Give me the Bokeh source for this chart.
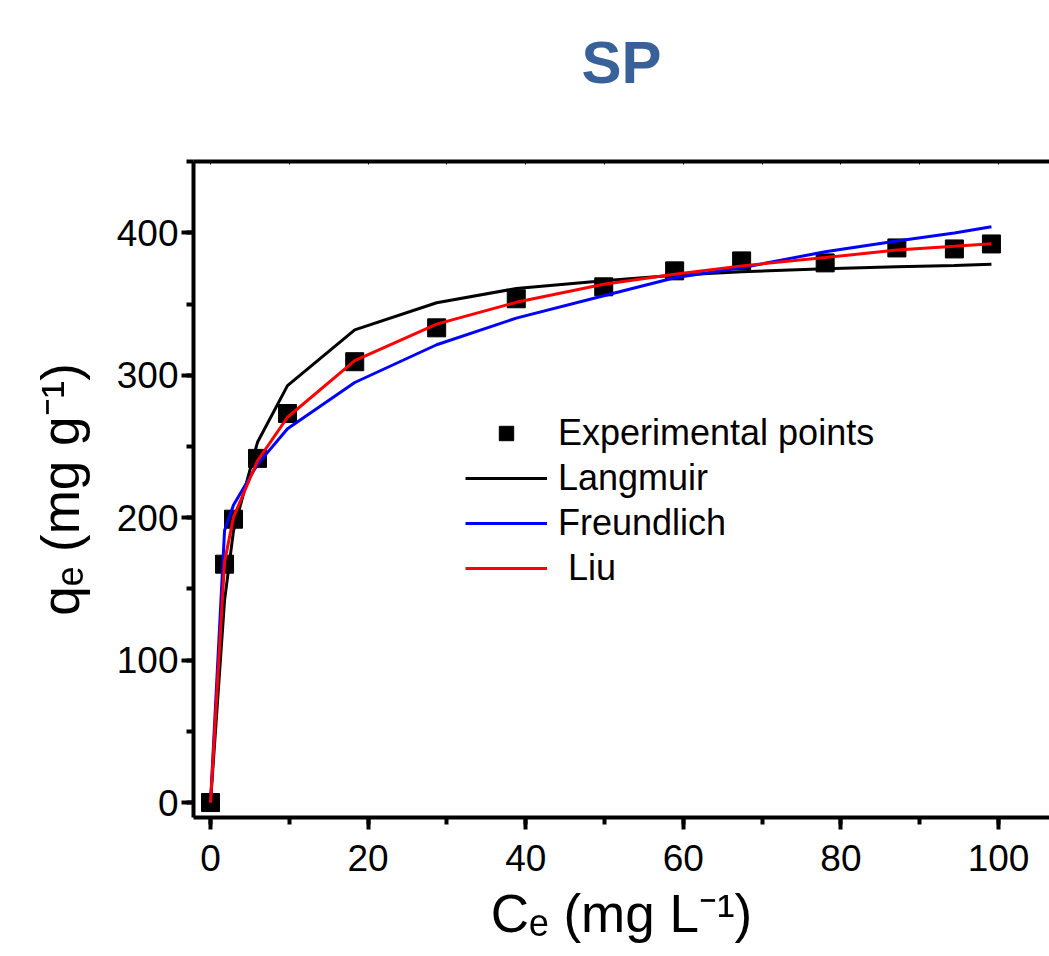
from bokeh.plotting import figure
from bokeh.models import (Range1d, LinearAxis, SingleIntervalTicker, FixedTicker,
                          Legend, LegendItem)
from bokeh.embed import file_html
from bokeh.resources import INLINE

# ---- data ----
ce = [0, 1.78, 2.92, 5.96, 9.77, 18.3, 28.7, 38.8, 49.9, 58.9, 67.4, 78.0, 87.1, 94.4, 99.1]
qe_exp = [0, 167.4, 199.0, 241.7, 273.2, 309.6, 333.4, 353.8, 362.2, 373.4, 380.4, 379.0, 389.5, 388.8, 392.3]
q_langmuir = [0, 142, 191, 253, 292.8, 332, 351, 361, 366.4, 370.3, 372.8, 374.8, 376.2, 377.2, 378.0]
q_freundlich = [0, 191, 209, 237.5, 262.5, 295, 321.5, 340.2, 355.9, 368.6, 375.6, 386.8, 394.4, 400.0, 404.4]
q_liu = [0, 169, 200.5, 240, 270.6, 310.3, 336, 351.3, 364, 371, 376.9, 382.7, 388.0, 390.6, 392.4]

legend_labels = ["Experimental points", "Langmuir", "Freundlich", " Liu"]
top_minor_ticks = [0, 10, 20, 30, 40, 50, 60, 70, 80, 90, 100]
title_text = "SP"
x_label = "C\u2091 (mg L\u207b\u00b9)"
y_label = "q\u2091 (mg g\u207b\u00b9)"

FONT = "Liberation Sans"

p = figure(frame_width=856, frame_height=656,
           x_range=Range1d(-2.16, 106.47), y_range=Range1d(-10.5, 450.2),
           output_backend="svg", toolbar_location=None)
p.min_border_left = 193
p.min_border_right = 0
p.min_border_top = 161
p.min_border_bottom = 0
p.outline_line_color = None
p.xgrid.visible = False
p.ygrid.visible = False
p.background_fill_color = "white"
p.border_fill_color = "white"

# axes
p.xaxis.ticker = SingleIntervalTicker(interval=20, num_minor_ticks=2)
p.yaxis.ticker = SingleIntervalTicker(interval=100, num_minor_ticks=2)
for ax in (p.xaxis[0], p.yaxis[0]):
    ax.axis_line_width = 4
    ax.axis_line_color = "black"
    ax.major_tick_line_width = 4
    ax.minor_tick_line_width = 4
    ax.major_tick_line_color = "black"
    ax.minor_tick_line_color = "black"
    ax.major_tick_out = 12
    ax.major_tick_in = 0
    ax.minor_tick_out = 7
    ax.minor_tick_in = 0
    ax.major_label_text_font = FONT
    ax.major_label_text_font_size = "37px"
    ax.major_label_text_color = "black"
    ax.axis_label_text_font = FONT
    ax.axis_label_text_font_size = "53px"
    ax.axis_label_text_font_style = "normal"
    ax.axis_label_text_color = "black"
p.xaxis.axis_label = x_label
p.yaxis.axis_label = y_label
p.xaxis.major_label_standoff = 15
p.yaxis.major_label_standoff = 3
p.xaxis.axis_label_standoff = 10
p.yaxis.axis_label_standoff = 24

# top frame line with tiny inward ticks; its label carries the chart title
top = LinearAxis(ticker=FixedTicker(ticks=[], minor_ticks=top_minor_ticks))
top.axis_line_width = 4
top.axis_line_color = "black"
top.major_tick_in = 0
top.major_tick_out = 0
top.minor_tick_in = 3
top.minor_tick_out = 0
top.minor_tick_line_width = 1
top.major_label_standoff = 0
top.axis_label = title_text
top.axis_label_text_font = FONT
top.axis_label_text_font_size = "60px"
top.axis_label_text_font_style = "bold"
top.axis_label_text_color = "#386199"
top.axis_label_standoff = 66
p.add_layout(top, "above")

# markers first, then fitted lines on top
r_exp = p.scatter(ce, qe_exp, marker="square", size=18, color="black")
r_lang = p.line(ce, q_langmuir, line_color="black", line_width=3)
r_freu = p.line(ce, q_freundlich, line_color="#0000FF", line_width=3)
r_liu = p.line(ce, q_liu, line_color="#FF0000", line_width=3)

legend = Legend(items=[
    LegendItem(label=legend_labels[0], renderers=[r_exp]),
    LegendItem(label=legend_labels[1], renderers=[r_lang]),
    LegendItem(label=legend_labels[2], renderers=[r_freu]),
    LegendItem(label=legend_labels[3], renderers=[r_liu]),
], location=(272, 228))
legend.label_text_font = FONT
legend.label_text_font_size = "36px"
legend.label_text_color = "black"
legend.glyph_width = 82
legend.glyph_height = 36
legend.label_height = 36
legend.label_standoff = 11
legend.spacing = 3
legend.padding = 0
legend.margin = 0
legend.border_line_color = None
legend.background_fill_alpha = 0
p.add_layout(legend, "center")

open("out.html", "w").write(file_html(p, INLINE))
